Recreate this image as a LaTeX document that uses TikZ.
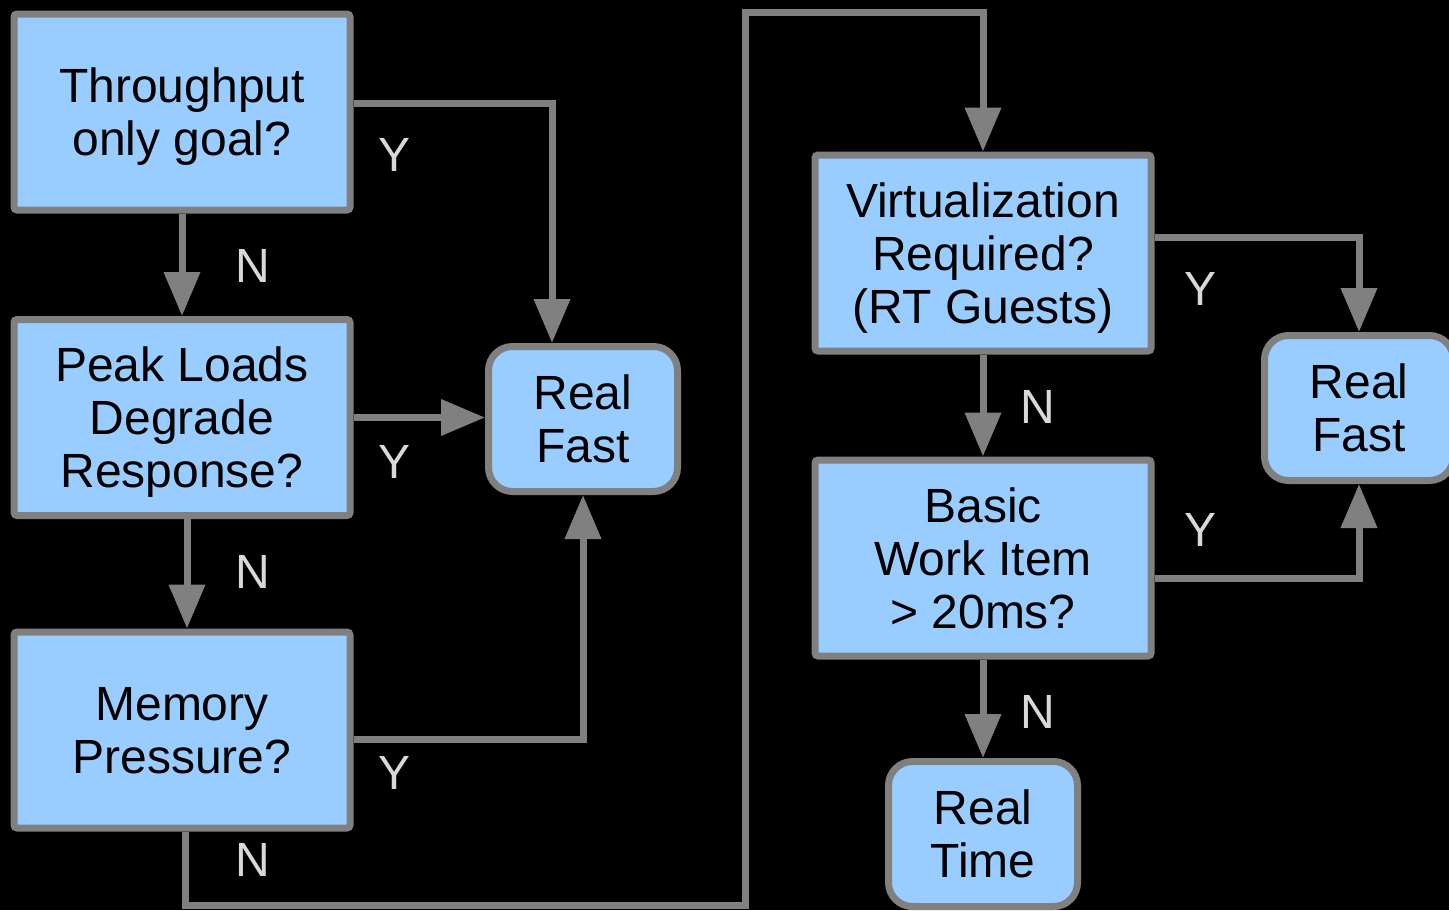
\documentclass[tikz,border=0pt]{standalone}
\usepackage{fontspec}
\setmainfont{Liberation Sans}
\usetikzlibrary{arrows.meta,calc}
\definecolor{boxfill}{HTML}{99CCFF}
\definecolor{edge}{HTML}{808080}
\definecolor{lbl}{HTML}{D9D9D9}
\begin{document}
\begin{tikzpicture}[x=0.5pt,y=-0.5pt,
  every node/.style={font=\fontsize{24}{26.5}\selectfont},
  decision/.style={draw=edge,fill=boxfill,line width=3.5pt,rounded corners=1.5pt,
    minimum width=168pt,minimum height=98pt,align=center,inner sep=0pt,
    text depth=0pt},
  terminal/.style={draw=edge,fill=boxfill,line width=3.5pt,rounded corners=12pt,
    minimum width=94.5pt,minimum height=72.5pt,align=center,inner sep=0pt},
  conn/.style={draw=edge,line width=3.5pt,-{Triangle[length=22pt,width=17.5pt]}},
  yn/.style={text=lbl,inner sep=0pt}]
\fill[black] (0,0) rectangle (1449,910);
\useasboundingbox (0,0) rectangle (1449,910);
% nodes
\node[decision] (b1) at (182,112) {Throughput\\only goal?};
\node[decision] (b2) at (182,417.5) {Peak Loads\\Degrade\\Response?};
\node[decision] (b3) at (182,730) {Memory\\Pressure?};
\node[terminal] (rf1) at (583,419) {Real\\Fast};
\node[decision] (b4) at (983,253) {Virtualization\\Required?\\(RT Guests)};
\node[decision] (b5) at (983,558) {Basic\\Work Item\\> 20ms?};
\node[terminal] (rf2) at (1359,408) {Real\\Fast};
\node[terminal] (rt) at (983,834) {Real\\Time};
% helper coordinates
\coordinate (c1) at (185,905);
\coordinate (c2) at (745,905);
\coordinate (c3) at (745,12);
\coordinate (c4) at (983,12);
% connectors
\draw[conn] (b1.south) -- (b2.north);
\draw[conn] ($(b1.east)+(0,-9)$) -| ($(rf1.north)+(-31,0)$);
\draw[conn] (b2.east) -- (b2.east -| rf1.west);
\draw[conn] ($(b2.south)+(5,0)$) -- ($(b3.north)+(5,0)$);
\draw[conn] ($(b3.east)+(0,9)$) -| (rf1.south);
\draw[conn] (b3.south -| c1) -- (c1) -- (c2) -- (c3) -- (c4) -- (b4.north);
\draw[conn] ($(b4.east)+(0,-16)$) -| (rf2.north);
\draw[conn] (b4.south) -- (b5.north);
\draw[conn] ($(b5.east)+(0,20)$) -| (rf2.south);
\draw[conn] (b5.south) -- (rt.north);
% labels
\node[yn] (n1) at (253,266) {N};
\node[yn] (y1) at (395,155) {Y};
\node[yn] (y2) at (395,462) {Y};
\node[yn] (n2) at (253,572) {N};
\node[yn] (y3) at (395,773) {Y};
\node[yn] (n3) at (253,860) {N};
\node[yn] (y4) at (1200,289) {Y};
\node[yn] (n4) at (1038,407) {N};
\node[yn] (y5) at (1200,530) {Y};
\node[yn] (n5) at (1038,712) {N};
\end{tikzpicture}
\end{document}
